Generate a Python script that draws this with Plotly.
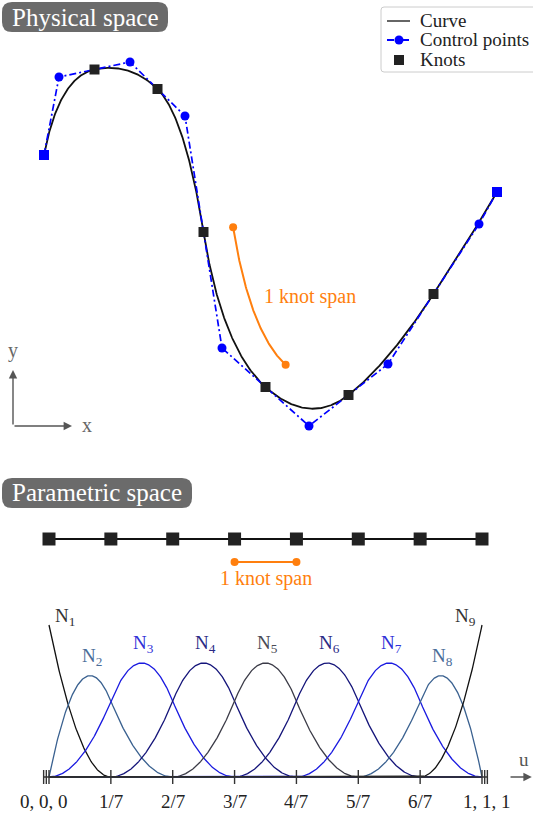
import numpy as np
import plotly.graph_objects as go
from collections import Counter

W, H = 533, 816
FONT = "Liberation Serif"

# ---------------- data ----------------
# control points of the quadratic B-spline (physical space, length units)
ctrl_x = [0.00, 0.30, 1.72, 2.82, 3.56, 5.30, 6.88, 8.70, 9.06]
ctrl_y = [5.50, 7.06, 7.36, 6.28, 1.64, 0.08, 1.32, 4.12, 4.76]
degree = 2
knot_vector = [0, 0, 0, 1/7, 2/7, 3/7, 4/7, 5/7, 6/7, 1, 1, 1]
knot_labels = ["0, 0, 0", "1/7", "2/7", "3/7", "4/7", "5/7", "6/7", "1, 1, 1"]
span_highlight = [3/7, 4/7]          # the "1 knot span" shown in orange
basis_names = ["N<sub>%d</sub>" % i for i in range(1, 10)]
basis_colors = ["#111111", "#3a6190", "#1a1ae0", "#15157a", "#3b3b47",
                "#15157a", "#1a1ae0", "#3a6190", "#111111"]
label_colors = ["#333333", "#4a6d99", "#3030d8", "#2a2a85", "#4a4a55",
                "#2a2a85", "#3030d8", "#4a6d99", "#333333"]
legend_names = ["Curve", "Control points", "Knots"]
ORANGE = "#ff7f0e"
BLUE = "#0000ff"
DASHDOT = "7px,3px,2px,3px"


def bspline_basis(u, t, p):
    """Cox-de Boor recursion, returns array (n_basis, len(u))."""
    u = np.asarray(u, float)
    t = np.asarray(t, float)
    m = len(t) - 1
    N = np.zeros((m, len(u)))
    for i in range(m):
        if t[i] < t[i + 1]:
            N[i] = (u >= t[i]) & (u < t[i + 1])
    last = max(i for i in range(m) if t[i] < t[i + 1])
    N[last, u >= t[-1]] = 1.0
    for k in range(1, p + 1):
        Nn = np.zeros((m - k, len(u)))
        for i in range(m - k):
            a = t[i + k] - t[i]
            b = t[i + k + 1] - t[i + 1]
            if a > 0:
                Nn[i] += (u - t[i]) / a * N[i]
            if b > 0:
                Nn[i] += (t[i + k + 1] - u) / b * N[i + 1]
        N = Nn
    return N


def curve_at(u):
    B = bspline_basis(u, knot_vector, degree)
    return B.T @ np.array(ctrl_x), B.T @ np.array(ctrl_y)


u_fine = np.linspace(0, 1, 701)
cx, cy = curve_at(u_fine)
uniq_knots = sorted(set(knot_vector))
kx, ky = curve_at(uniq_knots)

# offset copy of the highlighted span (drawn beside the curve)
us = np.linspace(span_highlight[0], span_highlight[1], 120)
sx, sy = curve_at(us)
dx, dy = np.gradient(sx), np.gradient(sy)
nrm = np.hypot(dx, dy)
off = 0.6
ox, oy = sx - off * dy / nrm, sy + off * dx / nrm

B = bspline_basis(u_fine, knot_vector, degree)

fig = go.Figure()

# ---------------- physical space ----------------
fig.add_trace(go.Scatter(x=cx, y=cy, mode="lines",
                         line=dict(color="#111111", width=1.8),
                         xaxis="x", yaxis="y"))
fig.add_trace(go.Scatter(
    x=ctrl_x, y=ctrl_y, mode="lines+markers",
    line=dict(color=BLUE, width=1.7, dash=DASHDOT),
    marker=dict(color=BLUE, size=9, symbol="circle"),
    xaxis="x", yaxis="y"))
fig.add_trace(go.Scatter(
    x=[ctrl_x[0], ctrl_x[-1]], y=[ctrl_y[0], ctrl_y[-1]], mode="markers",
    marker=dict(color=BLUE, size=10, symbol="square"),
    xaxis="x", yaxis="y"))
fig.add_trace(go.Scatter(x=kx[1:-1], y=ky[1:-1], mode="markers",
                         marker=dict(color="#222222", size=10, symbol="square"),
                         xaxis="x", yaxis="y"))
fig.add_trace(go.Scatter(x=ox, y=oy, mode="lines",
                         line=dict(color=ORANGE, width=2),
                         xaxis="x", yaxis="y"))
fig.add_trace(go.Scatter(x=[ox[0], ox[-1]], y=[oy[0], oy[-1]], mode="markers",
                         marker=dict(color=ORANGE, size=8),
                         xaxis="x", yaxis="y"))

# ---------------- parametric space (knot line) ----------------
fig.add_trace(go.Scatter(x=uniq_knots, y=[0] * len(uniq_knots), mode="lines+markers",
                         line=dict(color="#111111", width=2.2),
                         marker=dict(color="#222222", size=13, symbol="square"),
                         xaxis="x2", yaxis="y2"))
fig.add_trace(go.Scatter(x=span_highlight, y=[-0.377, -0.377], mode="lines+markers",
                         line=dict(color=ORANGE, width=2),
                         marker=dict(color=ORANGE, size=8),
                         xaxis="x2", yaxis="y2"))

# ---------------- basis functions ----------------
for i in range(B.shape[0]):
    fig.add_trace(go.Scatter(x=u_fine, y=B[i], mode="lines",
                             line=dict(color=basis_colors[i], width=1.3),
                             xaxis="x2", yaxis="y3"))

# u axis line + knot ticks (repeated knots drawn side by side)
fig.add_trace(go.Scatter(x=[-0.012, 1.012], y=[0, 0], mode="lines",
                         line=dict(color="#333333", width=1.5),
                         xaxis="x2", yaxis="y3"))
tx, ty = [], []
mult = Counter(knot_vector)
for kv in uniq_knots:
    for j in range(mult[kv]):
        if kv == 0:
            pos = kv - j * 0.0062
        elif kv == 1:
            pos = kv + j * 0.0062
        else:
            pos = kv
        tx += [pos, pos, None]
        ty += [-0.046, 0.046, None]
fig.add_trace(go.Scatter(x=tx, y=ty, mode="lines",
                         line=dict(color="#333333", width=1.4),
                         xaxis="x2", yaxis="y3"))

# ---------------- custom legend (pixel overlay axis) ----------------
fig.add_trace(go.Scatter(x=[387, 410], y=[21, 21], mode="lines",
                         line=dict(color="#555555", width=1.8),
                         xaxis="x3", yaxis="y4"))
fig.add_trace(go.Scatter(x=[387, 410], y=[40, 40], mode="lines",
                         line=dict(color=BLUE, width=1.8, dash=DASHDOT),
                         xaxis="x3", yaxis="y4"))
fig.add_trace(go.Scatter(x=[399], y=[40], mode="markers",
                         marker=dict(color=BLUE, size=9),
                         xaxis="x3", yaxis="y4"))
fig.add_trace(go.Scatter(x=[399], y=[60], mode="markers",
                         marker=dict(color="#222222", size=10, symbol="square"),
                         xaxis="x3", yaxis="y4"))

ann = []
for name, yy in zip(legend_names, [20, 39.5, 59]):
    ann.append(dict(x=418, y=yy, xref="x3", yref="y4", text=name, showarrow=False,
                    xanchor="left", yanchor="middle",
                    font=dict(family=FONT, size=19, color="#222222")))

for kv, lab in zip(uniq_knots, knot_labels):
    ann.append(dict(x=kv - (0.012 if kv == 0 else 0) + (0.012 if kv == 1 else 0),
                    y=-0.158, xref="x2", yref="y3", text=lab, showarrow=False,
                    xanchor="center", yanchor="middle",
                    font=dict(family=FONT, size=19, color="#222222")))

# basis labels placed above each peak
for i in range(B.shape[0]):
    k = int(np.argmax(B[i]))
    pu, pv = u_fine[k], B[i][k]
    if i == 0:
        xs, ys = 16, 8
    elif i == B.shape[0] - 1:
        xs, ys = -17, 8
    else:
        xs, ys = 2, 19
    ann.append(dict(x=pu, y=pv, xref="x2", yref="y3", text=basis_names[i],
                    showarrow=False, xshift=xs, yshift=ys,
                    xanchor="center", yanchor="middle",
                    font=dict(family=FONT, size=19, color=label_colors[i])))

# u arrow
ann.append(dict(x=1.115, y=0, ax=1.0624, ay=0, xref="x2", yref="y3",
                axref="x2", ayref="y3", text="", showarrow=True,
                arrowhead=2, arrowsize=1.2, arrowwidth=1.4, arrowcolor="#555555"))
ann.append(dict(x=1.097, y=0.112, xref="x2", yref="y3", text="u", showarrow=False,
                font=dict(family=FONT, size=19, color="#555555")))

# knot span labels
ann.append(dict(x=sum(span_highlight) / 2, y=-0.64, xref="x2", yref="y2",
                text="1 knot span", showarrow=False,
                font=dict(family=FONT, size=20, color=ORANGE)))
ann.append(dict(x=5.32, y=2.68, xref="x", yref="y", text="1 knot span",
                showarrow=False, font=dict(family=FONT, size=20, color=ORANGE)))

# x / y direction arrows in physical space
ann.append(dict(x=-0.62, y=1.2, ax=-0.62, ay=0.08, xref="x", yref="y",
                axref="x", ayref="y", text="", showarrow=True, arrowhead=2,
                arrowsize=1.2, arrowwidth=1.4, arrowcolor="#555555"))
ann.append(dict(x=0.56, y=0.08, ax=-0.62, ay=0.08, xref="x", yref="y",
                axref="x", ayref="y", text="", showarrow=True, arrowhead=2,
                arrowsize=1.2, arrowwidth=1.4, arrowcolor="#555555"))
ann.append(dict(x=-0.62, y=1.6, xref="x", yref="y", text="y", showarrow=False,
                font=dict(family=FONT, size=20, color="#666666")))
ann.append(dict(x=0.86, y=0.1, xref="x", yref="y", text="x", showarrow=False,
                font=dict(family=FONT, size=20, color="#666666")))


# rounded boxes in paper coordinates
def rounded_box(x0, y0, x1, y1, r):
    X = lambda px: px / W
    Y = lambda py: 1 - py / H
    return (f"M {X(x0 + r)} {Y(y0)} L {X(x1 - r)} {Y(y0)} "
            f"Q {X(x1)} {Y(y0)} {X(x1)} {Y(y0 + r)} L {X(x1)} {Y(y1 - r)} "
            f"Q {X(x1)} {Y(y1)} {X(x1 - r)} {Y(y1)} L {X(x0 + r)} {Y(y1)} "
            f"Q {X(x0)} {Y(y1)} {X(x0)} {Y(y1 - r)} L {X(x0)} {Y(y0 + r)} "
            f"Q {X(x0)} {Y(y0)} {X(x0 + r)} {Y(y0)} Z")


shapes = [dict(type="path", xref="paper", yref="paper", layer="below",
               path=rounded_box(381, 7, 540, 72, 3),
               fillcolor="white", line=dict(color="#cccccc", width=1))]
for (x0, y0, x1, y1, txt) in [(2, 2, 168, 32, "Physical space"),
                              (2, 478, 192, 508, "Parametric space")]:
    shapes.append(dict(type="path", xref="paper", yref="paper",
                       path=rounded_box(x0, y0, x1, y1, 10),
                       fillcolor="#6b6b6b", line=dict(width=0)))
    ann.append(dict(x=(x0 + x1) / 2 / W, y=1 - (y0 + y1) / 2 / H, xref="paper",
                    yref="paper", text=txt, showarrow=False,
                    xanchor="center", yanchor="middle",
                    font=dict(family=FONT, size=25, color="white")))

hid = dict(visible=False, showgrid=False, zeroline=False, fixedrange=True)
fig.update_layout(
    width=W, height=H, margin=dict(l=0, r=0, t=0, b=0),
    font=dict(family=FONT),
    paper_bgcolor="white", plot_bgcolor="rgba(0,0,0,0)", showlegend=False,
    xaxis=dict(domain=[0, 1], range=[-44 / 50, (W - 44) / 50], anchor="y", **hid),
    yaxis=dict(domain=[1 - 440 / H, 1], range=[(430 - 440) / 50, 430 / 50], anchor="x", **hid),
    xaxis2=dict(domain=[0, 1], range=[-49 / 433, (W - 49) / 433], anchor="y3", **hid),
    yaxis2=dict(domain=[1 - 600 / H, 1 - 440 / H], range=[-(600 - 539) / 61, (539 - 440) / 61],
                anchor="x2", **hid),
    yaxis3=dict(domain=[0, 1 - 600 / H], range=[(777 - 816) / 152, (777 - 600) / 152],
                anchor="x2", **hid),
    xaxis3=dict(domain=[0, 1], range=[0, W], anchor="y4", **hid),
    yaxis4=dict(domain=[0, 1], range=[H, 0], anchor="x3", **hid),
    annotations=ann, shapes=shapes,
)

fig.write_html("out.html")
